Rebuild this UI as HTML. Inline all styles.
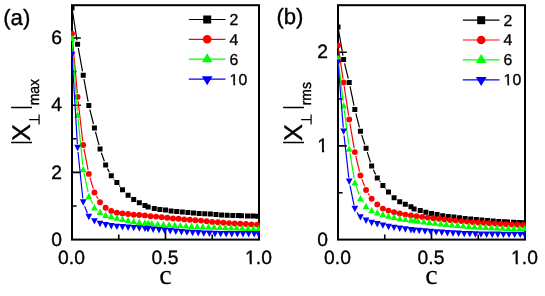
<!DOCTYPE html>
<html><head><meta charset="utf-8"><title>chart</title>
<style>
html,body{margin:0;padding:0;background:#fff;}
body{width:545px;height:296px;overflow:hidden;}
svg{display:block;will-change:transform;}
text{font-family:"Liberation Sans",sans-serif;fill:#000;text-rendering:geometricPrecision;stroke:#000;stroke-width:0.35px;stroke-linejoin:round;}
.tk{font-size:19.3px;}
.tag{font-size:22.2px;}
.lg{font-size:15.8px;}
.xl{font-size:25.5px;}
.sb{font-size:15px;}
.cc{font-family:"Liberation Serif",serif;font-size:28px;stroke-width:0.12px;}
</style></head><body>
<svg width="545" height="296" viewBox="0 0 545 296">
<defs>
<clipPath id="ca"><rect x="71.0" y="4.2" width="189.0" height="236.4"/></clipPath>
<clipPath id="cb"><rect x="337.0" y="4.2" width="189.0" height="236.4"/></clipPath>
</defs>
<rect width="545" height="296" fill="#fff"/>
<rect x="72.0" y="5.2" width="187.0" height="234.4" fill="none" stroke="#000" stroke-width="2"/>
<path d="M72.0,172.4h8.8M72.0,105.2h8.8M72.0,38h8.8M72.0,206h4.6M72.0,138.8h4.6M72.0,71.6h4.6M165.5,239.6v-8.6M118.75,239.6v-5M212.25,239.6v-5" stroke="#000" stroke-width="1.6" fill="none"/>
<g clip-path="url(#ca)">
<path d="M72.61,11.95L77,40.3M78.32,48.19L82.51,71.31M83.95,79.18L88.1,101.57M89.8,109.38L93.47,124.02M95.47,131.77L99.02,145.13M101.37,152.78L104.34,161.32M107.52,168.64L109.41,172.21M113.85,178.81L114.3,179.34M119.31,185.58L120.06,186.57" fill="none" stroke="#000" stroke-width="1.2"/>
<path d="M69.5,5.5h5v5h-5zM75.11,41.75h5v5h-5zM80.72,72.75h5v5h-5zM86.33,103h5v5h-5zM91.94,125.4h5v5h-5zM97.55,146.5h5v5h-5zM103.16,162.6h5v5h-5zM108.77,173.25h5v5h-5zM114.38,179.9h5v5h-5zM119.99,187.25h5v5h-5zM125.6,192.75h5v5h-5zM131.21,196.9h5v5h-5zM136.82,200.25h5v5h-5zM142.43,203.1h5v5h-5zM145.6,204.6h5v5h-5zM151.75,205.9h5v5h-5zM157.36,206.9h5v5h-5zM162.97,207.5h5v5h-5zM168.58,208.5h5v5h-5zM174.19,209h5v5h-5zM179.8,209.4h5v5h-5zM185.41,210h5v5h-5zM191.02,210.6h5v5h-5zM196.63,211h5v5h-5zM202.24,211.25h5v5h-5zM207.85,211.6h5v5h-5zM213.46,212.1h5v5h-5zM219.07,212.5h5v5h-5zM224.68,212.75h5v5h-5zM230.29,213h5v5h-5zM235.9,213.1h5v5h-5zM239,213.25h5v5h-5zM245,213.5h5v5h-5zM250.3,213.6h5v5h-5zM255.3,213.75h5v5h-5z" fill="#000"/>
<path d="M72.35,37.73L77.26,93.02M78.07,100.97L82.76,141.03M83.98,148.93L88.07,169.97M89.99,177.73L93.28,188.67M96.43,195.97L98.06,198.78" fill="none" stroke="#ff0000" stroke-width="1.2"/>
<path d="M69.05,33.75a2.95,2.95 0 1,0 5.9,0a2.95,2.95 0 1,0 -5.9,0zM74.66,97a2.95,2.95 0 1,0 5.9,0a2.95,2.95 0 1,0 -5.9,0zM80.27,145a2.95,2.95 0 1,0 5.9,0a2.95,2.95 0 1,0 -5.9,0zM85.88,173.9a2.95,2.95 0 1,0 5.9,0a2.95,2.95 0 1,0 -5.9,0zM91.49,192.5a2.95,2.95 0 1,0 5.9,0a2.95,2.95 0 1,0 -5.9,0zM97.1,202.25a2.95,2.95 0 1,0 5.9,0a2.95,2.95 0 1,0 -5.9,0zM102.71,207.75a2.95,2.95 0 1,0 5.9,0a2.95,2.95 0 1,0 -5.9,0zM108.32,211a2.95,2.95 0 1,0 5.9,0a2.95,2.95 0 1,0 -5.9,0zM113.93,212.75a2.95,2.95 0 1,0 5.9,0a2.95,2.95 0 1,0 -5.9,0zM119.54,213.5a2.95,2.95 0 1,0 5.9,0a2.95,2.95 0 1,0 -5.9,0zM125.15,214a2.95,2.95 0 1,0 5.9,0a2.95,2.95 0 1,0 -5.9,0zM130.76,214.75a2.95,2.95 0 1,0 5.9,0a2.95,2.95 0 1,0 -5.9,0zM136.37,215a2.95,2.95 0 1,0 5.9,0a2.95,2.95 0 1,0 -5.9,0zM141.98,215.4a2.95,2.95 0 1,0 5.9,0a2.95,2.95 0 1,0 -5.9,0zM147.59,216.25a2.95,2.95 0 1,0 5.9,0a2.95,2.95 0 1,0 -5.9,0zM153.2,216.6a2.95,2.95 0 1,0 5.9,0a2.95,2.95 0 1,0 -5.9,0zM158.81,217.25a2.95,2.95 0 1,0 5.9,0a2.95,2.95 0 1,0 -5.9,0zM164.42,217.75a2.95,2.95 0 1,0 5.9,0a2.95,2.95 0 1,0 -5.9,0zM170.03,218.4a2.95,2.95 0 1,0 5.9,0a2.95,2.95 0 1,0 -5.9,0zM175.64,218.75a2.95,2.95 0 1,0 5.9,0a2.95,2.95 0 1,0 -5.9,0zM181.25,219.4a2.95,2.95 0 1,0 5.9,0a2.95,2.95 0 1,0 -5.9,0zM186.86,219.75a2.95,2.95 0 1,0 5.9,0a2.95,2.95 0 1,0 -5.9,0zM192.47,220.25a2.95,2.95 0 1,0 5.9,0a2.95,2.95 0 1,0 -5.9,0zM198.08,220.6a2.95,2.95 0 1,0 5.9,0a2.95,2.95 0 1,0 -5.9,0zM203.69,221.25a2.95,2.95 0 1,0 5.9,0a2.95,2.95 0 1,0 -5.9,0zM209.3,221.9a2.95,2.95 0 1,0 5.9,0a2.95,2.95 0 1,0 -5.9,0zM214.91,222.25a2.95,2.95 0 1,0 5.9,0a2.95,2.95 0 1,0 -5.9,0zM220.52,222.75a2.95,2.95 0 1,0 5.9,0a2.95,2.95 0 1,0 -5.9,0zM226.13,223.1a2.95,2.95 0 1,0 5.9,0a2.95,2.95 0 1,0 -5.9,0zM231.74,223.5a2.95,2.95 0 1,0 5.9,0a2.95,2.95 0 1,0 -5.9,0zM237.35,223.75a2.95,2.95 0 1,0 5.9,0a2.95,2.95 0 1,0 -5.9,0zM242.96,224a2.95,2.95 0 1,0 5.9,0a2.95,2.95 0 1,0 -5.9,0zM248.57,224.4a2.95,2.95 0 1,0 5.9,0a2.95,2.95 0 1,0 -5.9,0zM254.18,224.6a2.95,2.95 0 1,0 5.9,0a2.95,2.95 0 1,0 -5.9,0z" fill="#ff0000"/>
<path d="M72.29,41.99L77.32,110.76M78.02,118.73L82.81,165.02M84.03,172.92L88.02,192.08M90.62,199.58L92.65,203.67" fill="none" stroke="#00ff00" stroke-width="1.2"/>
<path d="M72,34.8L75.35,41.2L68.65,41.2zM77.61,111.55L80.96,117.95L74.26,117.95zM83.22,165.8L86.57,172.2L79.87,172.2zM88.83,192.8L92.18,199.2L85.48,199.2zM94.44,204.05L97.79,210.45L91.09,210.45zM100.05,208.7L103.4,215.1L96.7,215.1zM105.66,211.55L109.01,217.95L102.31,217.95zM111.27,212.8L114.62,219.2L107.92,219.2zM116.88,214.3L120.23,220.7L113.53,220.7zM122.49,215.6L125.84,222L119.14,222zM128.1,216.8L131.45,223.2L124.75,223.2zM133.71,217.8L137.06,224.2L130.36,224.2zM139.32,218.6L142.67,225L135.97,225zM144.93,219.2L148.28,225.6L141.58,225.6zM148.4,219.6L151.75,226L145.05,226zM151.9,219.9L155.25,226.3L148.55,226.3zM157.8,220.4L161.15,226.8L154.45,226.8zM163.43,220.8L166.78,227.2L160.08,227.2zM169.06,221.2L172.41,227.6L165.71,227.6zM174.69,221.6L178.04,228L171.34,228zM180.32,221.9L183.67,228.3L176.97,228.3zM185.95,222.2L189.3,228.6L182.6,228.6zM191.58,222.5L194.93,228.9L188.23,228.9zM197.21,222.8L200.56,229.2L193.86,229.2zM202.84,223L206.19,229.4L199.49,229.4zM208.47,223.2L211.82,229.6L205.12,229.6zM214.1,223.4L217.45,229.8L210.75,229.8zM219.73,223.6L223.08,230L216.38,230zM225.36,223.8L228.71,230.2L222.01,230.2zM230.99,224L234.34,230.4L227.64,230.4zM236.62,224.2L239.97,230.6L233.27,230.6zM242.25,224.4L245.6,230.8L238.9,230.8zM247.88,224.6L251.23,231L244.53,231zM253.51,224.8L256.86,231.2L250.16,231.2zM258.5,224.9L261.85,231.3L255.15,231.3z" fill="#00ff00"/>
<path d="M72.24,58.99L77.37,144.01M78.02,151.98L82.81,198.52M84.66,206.23L87.39,213.27" fill="none" stroke="#0000ff" stroke-width="1.2"/>
<path d="M72,58.2L75.35,51.8L68.65,51.8zM77.61,151.2L80.96,144.8L74.26,144.8zM83.22,205.7L86.57,199.3L79.87,199.3zM88.83,220.2L92.18,213.8L85.48,213.8zM94.44,224.6L97.79,218.2L91.09,218.2zM100.05,227.2L103.4,220.8L96.7,220.8zM105.66,228.45L109.01,222.05L102.31,222.05zM111.27,229.45L114.62,223.05L107.92,223.05zM116.88,230.1L120.23,223.7L113.53,223.7zM122.49,230.5L125.84,224.1L119.14,224.1zM128.1,230.9L131.45,224.5L124.75,224.5zM133.71,231.3L137.06,224.9L130.36,224.9zM139.32,231.7L142.67,225.3L135.97,225.3zM144.93,232.1L148.28,225.7L141.58,225.7zM148,232.5L151.35,226.1L144.65,226.1zM153.2,233L156.55,226.6L149.85,226.6zM159,233.5L162.35,227.1L155.65,227.1zM164.6,234L167.95,227.6L161.25,227.6zM170.2,234.5L173.55,228.1L166.85,228.1zM175.8,235L179.15,228.6L172.45,228.6zM181.4,235.4L184.75,229L178.05,229zM187,235.8L190.35,229.4L183.65,229.4zM192.6,236.2L195.95,229.8L189.25,229.8zM198.2,236.5L201.55,230.1L194.85,230.1zM203.8,236.8L207.15,230.4L200.45,230.4zM209.4,237L212.75,230.6L206.05,230.6zM215,237.2L218.35,230.8L211.65,230.8zM220.6,237.3L223.95,230.9L217.25,230.9zM226.2,237.4L229.55,231L222.85,231zM231.8,237.4L235.15,231L228.45,231zM237.4,237.45L240.75,231.05L234.05,231.05zM243,237.45L246.35,231.05L239.65,231.05zM248.6,237.45L251.95,231.05L245.25,231.05zM254.2,237.45L257.55,231.05L250.85,231.05zM258.5,237.45L261.85,231.05L255.15,231.05z" fill="#0000ff"/>
</g>
<text x="62.1" y="245.8" text-anchor="end" class="tk">0</text>
<text x="62.1" y="178.6" text-anchor="end" class="tk">2</text>
<text x="62.1" y="111.4" text-anchor="end" class="tk">4</text>
<text x="62.1" y="44.2" text-anchor="end" class="tk">6</text>
<text x="71.5" y="264.2" text-anchor="middle" class="tk">0.0</text>
<text x="165" y="264.2" text-anchor="middle" class="tk">0.5</text>
<text x="258.5" y="264.2" text-anchor="middle" class="tk">1.0</text>
<rect x="244.69" y="262" width="5.03" height="4" fill="#fff"/><rect x="251.86" y="262" width="4.25" height="4" fill="#fff"/>
<text x="165.5" y="283.9" text-anchor="middle" class="cc">c</text>
<text x="3.2" y="24.8" class="tag">(a)</text>
<g transform="translate(30.7,0)">
<path d="M-19.6,142.4h20.9M-19.6,107.4h20.9" stroke="#000" stroke-width="1.5" fill="none"/>
<text transform="translate(-0.6,141) rotate(-90)" class="xl">X</text>
<path d="M8.4,114.6v10M8.4,119.6h-10" stroke="#000" stroke-width="1.2" fill="none"/>
<text transform="translate(8.0,105.3) rotate(-90) scale(0.93,1)" class="sb">max</text>
</g>
<path d="M188.8,19.5H225.5" stroke="#000" stroke-width="1.2"/>
<rect x="203.2" y="15.5" width="8" height="8" fill="#000"/>
<text x="229.6" y="24.9" class="lg">2</text>
<path d="M188.8,39.3H225.5" stroke="#ff0000" stroke-width="1.2"/>
<circle cx="207.2" cy="39.3" r="4.3" fill="#ff0000"/>
<text x="229.6" y="44.7" class="lg">4</text>
<path d="M188.8,59.2H225.5" stroke="#00ff00" stroke-width="1.2"/>
<path d="M207.2,53.3L212.6,62.3H201.8z" fill="#00ff00"/>
<text x="229.6" y="64.6" class="lg">6</text>
<path d="M188.8,79.1H225.5" stroke="#0000ff" stroke-width="1.2"/>
<path d="M207.2,85.3L212.6,76.3H201.8z" fill="#0000ff"/>
<text x="229.6" y="84.5" class="lg">10</text>
<rect x="229.2" y="83" width="4.15" height="3" fill="#fff"/><rect x="235.19" y="83" width="3.5" height="3" fill="#fff"/>
<rect x="338.0" y="5.2" width="187.0" height="234.4" fill="none" stroke="#000" stroke-width="2"/>
<path d="M338.0,145.9h8.8M338.0,52.2h8.8M338.0,192.75h4.6M338.0,99.05h4.6M431.5,239.6v-8.6M384.75,239.6v-5M478.25,239.6v-5" stroke="#000" stroke-width="1.6" fill="none"/>
<g clip-path="url(#cb)">
<path d="M338.68,30.84L342.93,55.56M344.56,63.39L348.27,78.61M350.03,86.42L354.02,105.58M355.83,113.37L359.44,127.38M361.69,135.05L364.8,144.5M367.25,152.12L370.46,162.28M373.37,169.72L375.56,174.38M379.69,181.19L380.46,182.21M385.49,188.43L385.88,188.87" fill="none" stroke="#000" stroke-width="1.2"/>
<path d="M335.5,24.4h5v5h-5zM341.11,57h5v5h-5zM346.72,80h5v5h-5zM352.33,107h5v5h-5zM357.94,128.75h5v5h-5zM363.55,145.8h5v5h-5zM369.16,163.6h5v5h-5zM374.77,175.5h5v5h-5zM380.38,182.9h5v5h-5zM385.99,189.4h5v5h-5zM391.6,195.15h5v5h-5zM397.21,199.15h5v5h-5zM402.82,201.65h5v5h-5zM408.43,204.15h5v5h-5zM411.6,206.4h5v5h-5zM417.75,207.9h5v5h-5zM423.36,209.8h5v5h-5zM428.97,211h5v5h-5zM434.58,212h5v5h-5zM440.19,213.15h5v5h-5zM445.8,213.9h5v5h-5zM451.41,214.5h5v5h-5zM457.02,215.15h5v5h-5zM462.63,215.9h5v5h-5zM468.24,216.5h5v5h-5zM473.85,217.1h5v5h-5zM479.46,217.6h5v5h-5zM485.07,218.1h5v5h-5zM490.68,218.5h5v5h-5zM496.29,218.9h5v5h-5zM501.9,219.2h5v5h-5zM505,219.4h5v5h-5zM511,219.7h5v5h-5zM516.3,220h5v5h-5zM521.3,220.3h5v5h-5z" fill="#000"/>
<path d="M338.6,49.45L343.01,78.55M344.21,86.45L348.62,115.55M349.9,123.44L354.15,148.16M355.76,155.99L359.51,171.61M361.88,179.23L364.61,186.27M368.21,193.37L369.5,195.38" fill="none" stroke="#ff0000" stroke-width="1.2"/>
<path d="M335.05,45.5a2.95,2.95 0 1,0 5.9,0a2.95,2.95 0 1,0 -5.9,0zM340.66,82.5a2.95,2.95 0 1,0 5.9,0a2.95,2.95 0 1,0 -5.9,0zM346.27,119.5a2.95,2.95 0 1,0 5.9,0a2.95,2.95 0 1,0 -5.9,0zM351.88,152.1a2.95,2.95 0 1,0 5.9,0a2.95,2.95 0 1,0 -5.9,0zM357.49,175.5a2.95,2.95 0 1,0 5.9,0a2.95,2.95 0 1,0 -5.9,0zM363.1,190a2.95,2.95 0 1,0 5.9,0a2.95,2.95 0 1,0 -5.9,0zM368.71,198.75a2.95,2.95 0 1,0 5.9,0a2.95,2.95 0 1,0 -5.9,0zM374.32,204.4a2.95,2.95 0 1,0 5.9,0a2.95,2.95 0 1,0 -5.9,0zM379.93,208.6a2.95,2.95 0 1,0 5.9,0a2.95,2.95 0 1,0 -5.9,0zM385.54,210.6a2.95,2.95 0 1,0 5.9,0a2.95,2.95 0 1,0 -5.9,0zM391.15,212.3a2.95,2.95 0 1,0 5.9,0a2.95,2.95 0 1,0 -5.9,0zM396.76,213.5a2.95,2.95 0 1,0 5.9,0a2.95,2.95 0 1,0 -5.9,0zM402.37,214.6a2.95,2.95 0 1,0 5.9,0a2.95,2.95 0 1,0 -5.9,0zM407.98,215.5a2.95,2.95 0 1,0 5.9,0a2.95,2.95 0 1,0 -5.9,0zM413.59,216.2a2.95,2.95 0 1,0 5.9,0a2.95,2.95 0 1,0 -5.9,0zM419.2,216.9a2.95,2.95 0 1,0 5.9,0a2.95,2.95 0 1,0 -5.9,0zM424.81,217.6a2.95,2.95 0 1,0 5.9,0a2.95,2.95 0 1,0 -5.9,0zM430.42,218.2a2.95,2.95 0 1,0 5.9,0a2.95,2.95 0 1,0 -5.9,0zM436.03,218.8a2.95,2.95 0 1,0 5.9,0a2.95,2.95 0 1,0 -5.9,0zM441.64,219.4a2.95,2.95 0 1,0 5.9,0a2.95,2.95 0 1,0 -5.9,0zM447.25,220a2.95,2.95 0 1,0 5.9,0a2.95,2.95 0 1,0 -5.9,0zM452.86,220.6a2.95,2.95 0 1,0 5.9,0a2.95,2.95 0 1,0 -5.9,0zM458.47,221.1a2.95,2.95 0 1,0 5.9,0a2.95,2.95 0 1,0 -5.9,0zM464.08,221.6a2.95,2.95 0 1,0 5.9,0a2.95,2.95 0 1,0 -5.9,0zM469.69,222.1a2.95,2.95 0 1,0 5.9,0a2.95,2.95 0 1,0 -5.9,0zM475.3,222.5a2.95,2.95 0 1,0 5.9,0a2.95,2.95 0 1,0 -5.9,0zM480.91,222.9a2.95,2.95 0 1,0 5.9,0a2.95,2.95 0 1,0 -5.9,0zM486.52,223.3a2.95,2.95 0 1,0 5.9,0a2.95,2.95 0 1,0 -5.9,0zM492.13,223.6a2.95,2.95 0 1,0 5.9,0a2.95,2.95 0 1,0 -5.9,0zM497.74,223.9a2.95,2.95 0 1,0 5.9,0a2.95,2.95 0 1,0 -5.9,0zM503.35,224.2a2.95,2.95 0 1,0 5.9,0a2.95,2.95 0 1,0 -5.9,0zM508.96,224.5a2.95,2.95 0 1,0 5.9,0a2.95,2.95 0 1,0 -5.9,0zM514.57,224.8a2.95,2.95 0 1,0 5.9,0a2.95,2.95 0 1,0 -5.9,0zM520.18,225a2.95,2.95 0 1,0 5.9,0a2.95,2.95 0 1,0 -5.9,0z" fill="#ff0000"/>
<path d="M338.47,61.57L343.14,101.28M344.12,109.22L348.71,144.63M349.87,152.55L354.18,178.45M356.18,186.17L359.09,194.33M362.76,201.36L363.73,202.74" fill="none" stroke="#00ff00" stroke-width="1.2"/>
<path d="M338,54.4L341.35,60.8L334.65,60.8zM343.61,102.05L346.96,108.45L340.26,108.45zM349.22,145.4L352.57,151.8L345.87,151.8zM354.83,179.2L358.18,185.6L351.48,185.6zM360.44,194.9L363.79,201.3L357.09,201.3zM366.05,202.8L369.4,209.2L362.7,209.2zM371.66,206.8L375.01,213.2L368.31,213.2zM377.27,209L380.62,215.4L373.92,215.4zM382.88,210.8L386.23,217.2L379.53,217.2zM388.49,212.4L391.84,218.8L385.14,218.8zM394.1,213.5L397.45,219.9L390.75,219.9zM399.71,214.8L403.06,221.2L396.36,221.2zM405.32,215.7L408.67,222.1L401.97,222.1zM410.93,216.4L414.28,222.8L407.58,222.8zM414.4,216.9L417.75,223.3L411.05,223.3zM417.9,217.3L421.25,223.7L414.55,223.7zM423.8,218L427.15,224.4L420.45,224.4zM429.43,218.7L432.78,225.1L426.08,225.1zM435.06,219.4L438.41,225.8L431.71,225.8zM440.69,220L444.04,226.4L437.34,226.4zM446.32,220.6L449.67,227L442.97,227zM451.95,221.2L455.3,227.6L448.6,227.6zM457.58,221.7L460.93,228.1L454.23,228.1zM463.21,222.2L466.56,228.6L459.86,228.6zM468.84,222.6L472.19,229L465.49,229zM474.47,223L477.82,229.4L471.12,229.4zM480.1,223.3L483.45,229.7L476.75,229.7zM485.73,223.6L489.08,230L482.38,230zM491.36,223.9L494.71,230.3L488.01,230.3zM496.99,224.2L500.34,230.6L493.64,230.6zM502.62,224.4L505.97,230.8L499.27,230.8zM508.25,224.6L511.6,231L504.9,231zM513.88,224.8L517.23,231.2L510.53,231.2zM519.51,224.9L522.86,231.3L516.16,231.3zM524.5,224.9L527.85,231.3L521.15,231.3z" fill="#00ff00"/>
<path d="M338.32,66.59L343.29,127.61M344.05,135.58L348.78,177.77M350.03,185.67L354.02,205.03M357.04,212.28L358.23,214.07" fill="none" stroke="#0000ff" stroke-width="1.2"/>
<path d="M338,65.8L341.35,59.4L334.65,59.4zM343.61,134.8L346.96,128.4L340.26,128.4zM349.22,184.95L352.57,178.55L345.87,178.55zM354.83,212.15L358.18,205.75L351.48,205.75zM360.44,220.6L363.79,214.2L357.09,214.2zM366.05,224L369.4,217.6L362.7,217.6zM371.66,226.2L375.01,219.8L368.31,219.8zM377.27,227.4L380.62,221L373.92,221zM382.88,228.8L386.23,222.4L379.53,222.4zM388.49,230.2L391.84,223.8L385.14,223.8zM394.1,231.1L397.45,224.7L390.75,224.7zM399.71,232L403.06,225.6L396.36,225.6zM405.32,232.7L408.67,226.3L401.97,226.3zM410.93,233.4L414.28,227L407.58,227zM414,233.8L417.35,227.4L410.65,227.4zM419.2,234.2L422.55,227.8L415.85,227.8zM425,234.7L428.35,228.3L421.65,228.3zM430.6,235.2L433.95,228.8L427.25,228.8zM436.2,235.6L439.55,229.2L432.85,229.2zM441.8,236L445.15,229.6L438.45,229.6zM447.4,236.4L450.75,230L444.05,230zM453,236.7L456.35,230.3L449.65,230.3zM458.6,237L461.95,230.6L455.25,230.6zM464.2,237.3L467.55,230.9L460.85,230.9zM469.8,237.5L473.15,231.1L466.45,231.1zM475.4,237.7L478.75,231.3L472.05,231.3zM481,237.8L484.35,231.4L477.65,231.4zM486.6,237.9L489.95,231.5L483.25,231.5zM492.2,238L495.55,231.6L488.85,231.6zM497.8,238L501.15,231.6L494.45,231.6zM503.4,238.05L506.75,231.65L500.05,231.65zM509,238.05L512.35,231.65L505.65,231.65zM514.6,238.05L517.95,231.65L511.25,231.65zM520.2,238.05L523.55,231.65L516.85,231.65zM524.5,238.05L527.85,231.65L521.15,231.65z" fill="#0000ff"/>
</g>
<text x="328.1" y="245.8" text-anchor="end" class="tk">0</text>
<text x="328.1" y="152.1" text-anchor="end" class="tk">1</text>
<rect x="316.97" y="150" width="5.03" height="4" fill="#fff"/><rect x="324.15" y="150" width="4.25" height="4" fill="#fff"/>
<text x="328.1" y="58.4" text-anchor="end" class="tk">2</text>
<text x="337.5" y="264.2" text-anchor="middle" class="tk">0.0</text>
<text x="431" y="264.2" text-anchor="middle" class="tk">0.5</text>
<text x="524.5" y="264.2" text-anchor="middle" class="tk">1.0</text>
<rect x="510.69" y="262" width="5.03" height="4" fill="#fff"/><rect x="517.86" y="262" width="4.25" height="4" fill="#fff"/>
<text x="431.5" y="283.9" text-anchor="middle" class="cc">c</text>
<text x="276.4" y="23.8" class="tag">(b)</text>
<g transform="translate(302.7,0)">
<path d="M-19.6,142.4h20.9M-19.6,107.4h20.9" stroke="#000" stroke-width="1.5" fill="none"/>
<text transform="translate(-0.6,141) rotate(-90)" class="xl">X</text>
<path d="M8.4,114.6v10M8.4,119.6h-10" stroke="#000" stroke-width="1.2" fill="none"/>
<text transform="translate(8.0,105.3) rotate(-90) scale(0.93,1)" class="sb">rms</text>
</g>
<path d="M462.8,20.2H499.5" stroke="#000" stroke-width="1.2"/>
<rect x="477.2" y="16.2" width="8" height="8" fill="#000"/>
<text x="503.6" y="25.6" class="lg">2</text>
<path d="M462.8,40H499.5" stroke="#ff0000" stroke-width="1.2"/>
<circle cx="481.2" cy="40" r="4.3" fill="#ff0000"/>
<text x="503.6" y="45.4" class="lg">4</text>
<path d="M462.8,59.9H499.5" stroke="#00ff00" stroke-width="1.2"/>
<path d="M481.2,54L486.6,63H475.8z" fill="#00ff00"/>
<text x="503.6" y="65.3" class="lg">6</text>
<path d="M462.8,79.8H499.5" stroke="#0000ff" stroke-width="1.2"/>
<path d="M481.2,86L486.6,77H475.8z" fill="#0000ff"/>
<text x="503.6" y="85.2" class="lg">10</text>
<rect x="503.2" y="83" width="4.15" height="4" fill="#fff"/><rect x="509.19" y="83" width="3.5" height="4" fill="#fff"/>
</svg>
</body></html>
